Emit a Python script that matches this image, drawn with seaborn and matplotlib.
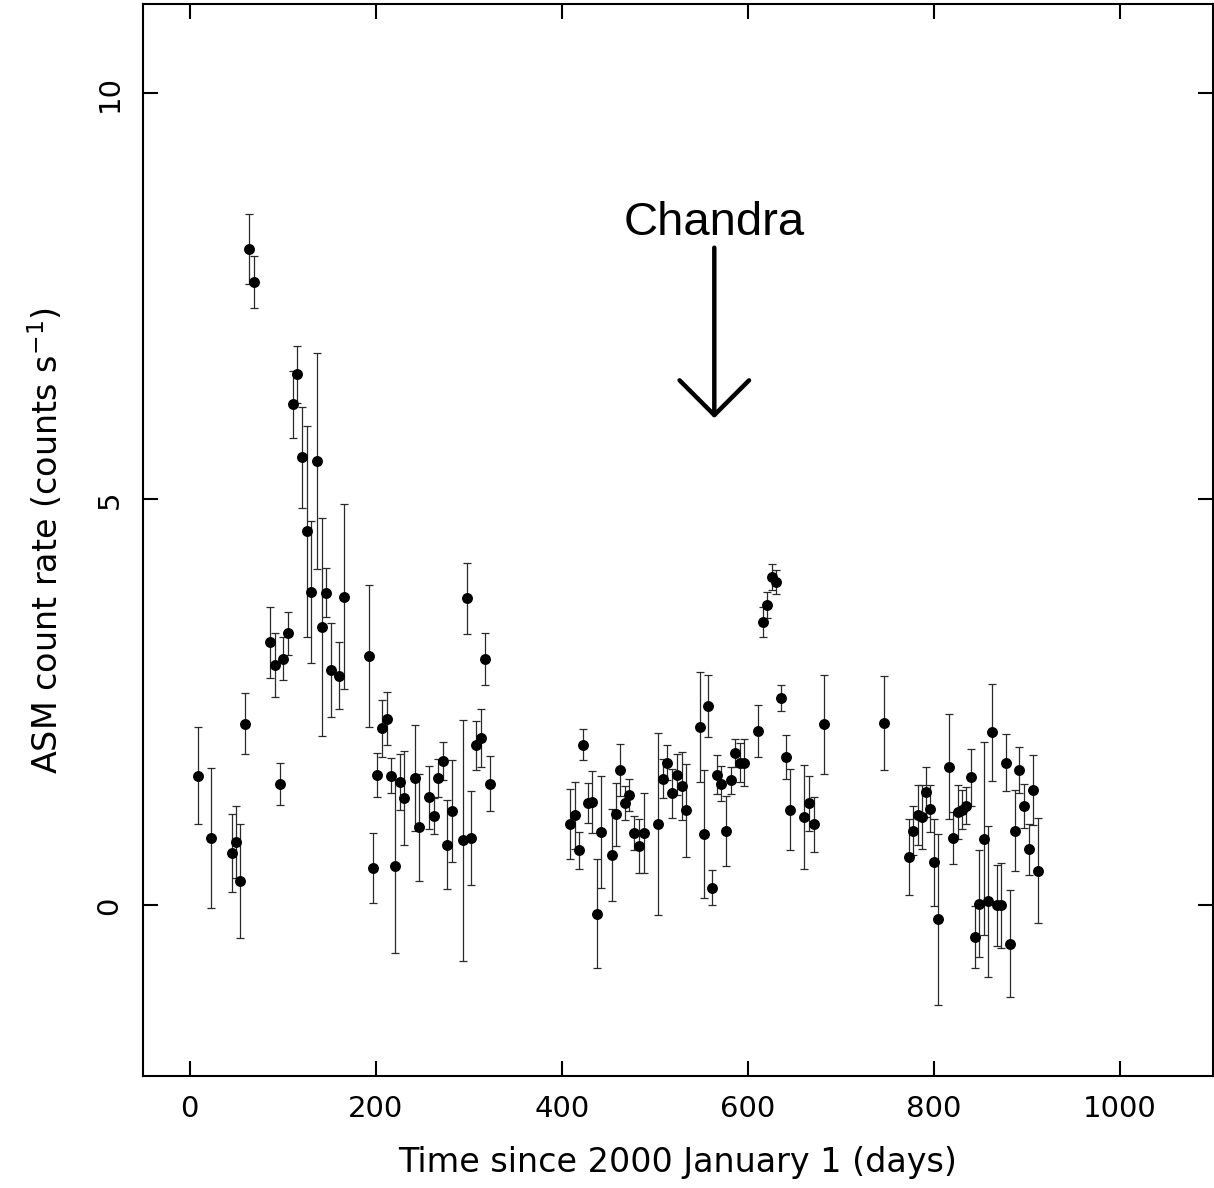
import matplotlib
matplotlib.use('Agg')
import matplotlib.pyplot as plt
import seaborn as sns

# ASM light curve, days since 2000 Jan 1
t_days = [9.3, 22.9, 45.5, 50.2, 54.4, 59.5, 63.8, 69.0, 87.0, 91.7, 96.8, 100.7, 105.7,
          111.0, 116.0, 121.0, 126.0, 131.0, 136.5, 142.0, 147.0, 151.6, 161.0, 166.0,
          192.8, 196.8, 202.0, 207.0, 212.5, 216.8, 221.0, 226.0, 230.8, 242.0, 246.6,
          257.3, 262.4, 267.0, 272.0, 276.7, 281.7, 293.9, 298.2, 302.8, 307.8, 313.0,
          317.9, 322.9,
          409.0, 414.0, 418.6, 423.0, 428.0, 433.0, 437.6, 442.0, 454.0, 458.7, 463.0,
          468.0, 472.7, 478.0, 482.8, 488.0, 504.0, 509.0, 513.5, 519.0, 523.6, 529.0,
          534.0, 548.4, 553.0, 557.6, 562.0, 566.7, 571.6, 577.0, 581.7, 586.3, 591.4,
          596.0, 610.8, 616.0, 620.8, 625.8, 630.8, 636.0, 640.8, 645.8, 660.9, 665.9,
          671.0, 681.7, 746.9,
          773.4, 778.0, 782.8, 787.0, 791.4, 795.7, 800.0, 804.3, 816.0, 820.8, 825.4,
          830.0, 835.0, 839.8, 844.7, 849.0, 853.7, 858.0, 862.7, 867.7, 872.4, 877.0,
          881.7, 886.7, 891.7, 896.8, 901.7, 907.0, 911.8]

rate = [1.60, 0.83, 0.65, 0.78, 0.30, 2.24, 8.08, 7.68, 3.24, 2.96, 1.50, 3.04, 3.35,
        6.17, 6.54, 5.52, 4.61, 3.86, 5.47, 3.43, 3.85, 2.90, 2.83, 3.80,
        3.07, 0.46, 1.61, 2.18, 2.30, 1.60, 0.48, 1.52, 1.32, 1.57, 0.96,
        1.33, 1.10, 1.57, 1.78, 0.75, 1.16, 0.80, 3.78, 0.83, 1.97, 2.06,
        3.03, 1.50,
        1.00, 1.11, 0.68, 1.98, 1.26, 1.27, -0.10, 0.91, 0.62, 1.12, 1.67,
        1.26, 1.36, 0.89, 0.73, 0.89, 1.00, 1.56, 1.76, 1.38, 1.61, 1.47,
        1.17, 2.20, 0.88, 2.46, 0.22, 1.61, 1.50, 0.92, 1.54, 1.88, 1.76,
        1.76, 2.15, 3.49, 3.70, 4.05, 3.98, 2.56, 1.83, 1.18, 1.09, 1.26,
        1.00, 2.23, 2.25,
        0.60, 0.92, 1.11, 1.09, 1.40, 1.19, 0.53, -0.17, 1.71, 0.83, 1.15,
        1.18, 1.23, 1.58, -0.39, 0.02, 0.82, 0.05, 2.13, 0.00, 0.00, 1.76,
        -0.47, 0.92, 1.67, 1.22, 0.69, 1.42, 0.43]

rate_err = [0.60, 0.86, 0.48, 0.44, 0.70, 0.37, 0.43, 0.32, 0.44, 0.39, 0.26, 0.27, 0.26,
            0.41, 0.35, 0.62, 1.30, 0.88, 1.33, 1.34, 0.30, 0.58, 0.41, 1.14,
            0.87, 0.43, 0.27, 0.35, 0.33, 0.22, 1.07, 0.34, 0.58, 0.65, 0.66,
            0.39, 0.22, 0.23, 0.23, 0.55, 0.63, 1.48, 0.44, 0.58, 0.30, 0.36,
            0.32, 0.34,
            0.43, 0.41, 0.23, 0.19, 0.25, 0.38, 0.67, 0.69, 0.57, 0.39, 0.32,
            0.21, 0.20, 0.21, 0.33, 0.49, 1.12, 0.24, 0.22, 0.30, 0.25, 0.42,
            0.57, 0.68, 0.79, 0.38, 0.22, 0.24, 0.22, 0.43, 0.17, 0.17, 0.24,
            0.29, 0.32, 0.19, 0.16, 0.16, 0.15, 0.16, 0.27, 0.50, 0.64, 0.34,
            0.34, 0.61, 0.58,
            0.47, 0.30, 0.37, 0.39, 0.31, 0.29, 0.54, 1.05, 0.65, 0.32, 0.33,
            0.24, 0.23, 0.35, 0.38, 0.66, 1.19, 0.93, 0.60, 0.50, 0.52, 0.35,
            0.66, 0.50, 0.28, 0.27, 0.31, 0.43, 0.65]

chandra_day = 564.0

sns.set_theme(style="ticks")
plt.rcParams['font.family'] = ['DejaVu Sans']
plt.rcParams['mathtext.default'] = 'regular'
plt.rcParams['text.color'] = 'black'
plt.rcParams['axes.labelcolor'] = 'black'

fig = plt.figure(figsize=(12.14, 11.88), dpi=100)
ax = fig.add_axes([0.1178, 0.0943, 0.8814, 0.9023])

ax.errorbar(t_days, rate, yerr=rate_err, fmt='none', ecolor='#2a2a2a',
            elinewidth=0.9, capsize=3, capthick=0.9, zorder=2)
sns.scatterplot(x=t_days, y=rate, color='black', s=62, linewidth=0, ax=ax, zorder=3)

ax.annotate('', xy=(chandra_day, 6.0), xytext=(chandra_day, 8.1),
            arrowprops=dict(arrowstyle='->, head_length=2.5, head_width=2.5',
                            mutation_scale=10, lw=3.2, color='black',
                            shrinkA=0, shrinkB=0))
ax.text(chandra_day, 8.25, 'Chandra', ha='center', va='baseline', color='black',
        fontsize=34, family=['Liberation Sans', 'DejaVu Sans'])

ax.set_xlim(-50, 1100)
ax.set_ylim(-2.1, 11.1)
ax.set_xticks([0, 200, 400, 600, 800, 1000])
ax.set_yticks([0, 5, 10])

for s in ax.spines.values():
    s.set_visible(True)
    s.set_linewidth(1.5)
    s.set_color('black')

ax.tick_params(direction='in', length=11, width=1.5, top=True, right=True,
               labelsize=21, pad=14, colors='black')
plt.setp(ax.get_yticklabels(), rotation=90, va='center')

ax.set_xlabel('Time since 2000 January 1 (days)', fontsize=24, labelpad=16)
ax.set_ylabel('ASM count rate (counts s$^{-1}$)', fontsize=24, labelpad=22)

fig.savefig('out.png', dpi=100)
